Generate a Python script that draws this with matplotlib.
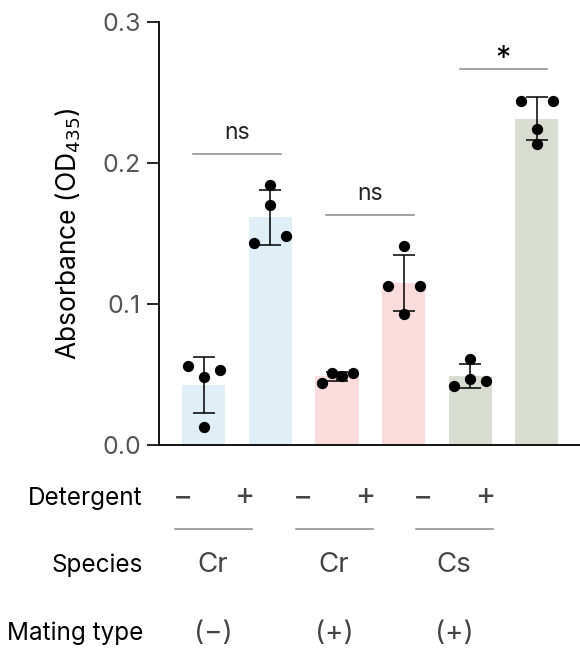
import matplotlib
matplotlib.use("Agg")
import matplotlib.pyplot as plt
import numpy as np

plt.rcParams['font.family'] = ['Inter', 'DejaVu Sans']

# Individual replicate measurements (OD435), one list per bar
replicates = [
    [0.056, 0.048, 0.053, 0.013],   # Cr (-), no detergent
    [0.184, 0.170, 0.143, 0.148],   # Cr (-), detergent
    [0.044, 0.051, 0.049, 0.051],   # Cr (+), no detergent
    [0.141, 0.113, 0.113, 0.093],   # Cr (+), detergent
    [0.061, 0.047, 0.042, 0.045],   # Cs (+), no detergent
    [0.244, 0.244, 0.224, 0.213],   # Cs (+), detergent
]
jitter = [
    [-0.24, 0.0, 0.24, 0.0],
    [0.0, 0.0, -0.24, 0.24],
    [-0.23, -0.07, 0.08, 0.24],
    [0.0, -0.24, 0.24, 0.0],
    [0.0, 0.0, -0.24, 0.24],
    [-0.24, 0.24, 0.0, 0.0],
]
bar_colors = ['#e0eef6', '#e0eef6', '#f9dcdb', '#f9dcdb', '#d9dcd0', '#d9dcd0']

detergent = ['\u2212', '+', '\u2212', '+', '\u2212', '+']
species = ['Cr', 'Cr', 'Cs']
mating = ['(\u2212)', '(+)', '(+)']

# significance brackets: (left bar, right bar, height, label)
sig_pairs = [(0, 1, 0.2062, 'ns'), (2, 3, 0.1632, 'ns'), (4, 5, 0.2665, '*')]

means = [np.mean(r) for r in replicates]
sds = [np.std(r, ddof=1) for r in replicates]
x = np.arange(len(replicates))

fig = plt.figure(figsize=(5.8, 6.5), dpi=100)
ax = fig.add_axes([0.274, 0.3154, 0.726, 0.6512])

ax.bar(x, means, width=0.65, color=bar_colors, zorder=1)
ax.errorbar(x, means, yerr=sds, fmt='none', ecolor='black', elinewidth=1.1,
            capsize=8, capthick=1.1, zorder=2)
for i, vals in enumerate(replicates):
    ax.scatter(x[i] + np.array(jitter[i]), vals, s=66, color='black', zorder=3,
               linewidths=0)

for a, b, h, lab in sig_pairs:
    ax.plot([x[a] - 0.16, x[b] + 0.16], [h, h], color='#8a8a8a', lw=1.1)
    if lab == '*':
        ax.text((x[a] + x[b]) / 2, h - 0.003, lab, ha='center', va='bottom',
                fontsize=22, color='black')
    else:
        ax.text((x[a] + x[b]) / 2, h + 0.007, lab, ha='center', va='bottom',
                fontsize=16.5, color='#222222')

ax.set_xlim(-0.675, 5.65)
ax.set_ylim(0, 0.3)
ax.set_yticks([0.0, 0.1, 0.2, 0.3])
ax.set_yticklabels(['0.0', '0.1', '0.2', '0.3'])
ax.set_xticks([])
ax.tick_params(axis='y', length=9, width=1.2, labelsize=18, labelcolor='#555555',
               pad=4)
for side in ['top', 'right']:
    ax.spines[side].set_visible(False)
ax.spines['left'].set_linewidth(1.3)
ax.spines['bottom'].set_linewidth(1.3)
ax.set_ylabel('Absorbance (OD$_{435}$)', fontsize=19, labelpad=14)

# table of conditions under the axis, in pixel positions of the figure
W, H = 580, 650
def put(px, py, s, **kw):
    fig.text(px / W, 1 - py / H, s, va='center', **kw)

put(143, 498, 'Detergent', ha='right', fontsize=17.5)
put(143, 565, 'Species', ha='right', fontsize=17.5)
put(143, 633, 'Mating type', ha='right', fontsize=17.5)

det_x = [183, 244, 303, 365, 423, 485]
for px, s in zip(det_x, detergent):
    put(px, 497, s, ha='center', fontsize=22, color='#444444')

group_x = [213, 334, 454]
group_lines = [(175, 252), (296, 373), (416, 493)]
for (x0, x1), gx, sp, mt in zip(group_lines, group_x, species, mating):
    fig.add_artist(plt.Line2D([x0 / W, x1 / W], [1 - 529 / H, 1 - 529 / H],
                              color='#8a8a8a', lw=1.1))
    put(gx, 565, sp, ha='center', fontsize=20, color='#444444')
    put(gx, 633, mt, ha='center', fontsize=20, color='#444444')

fig.savefig('out.png', dpi=100)
